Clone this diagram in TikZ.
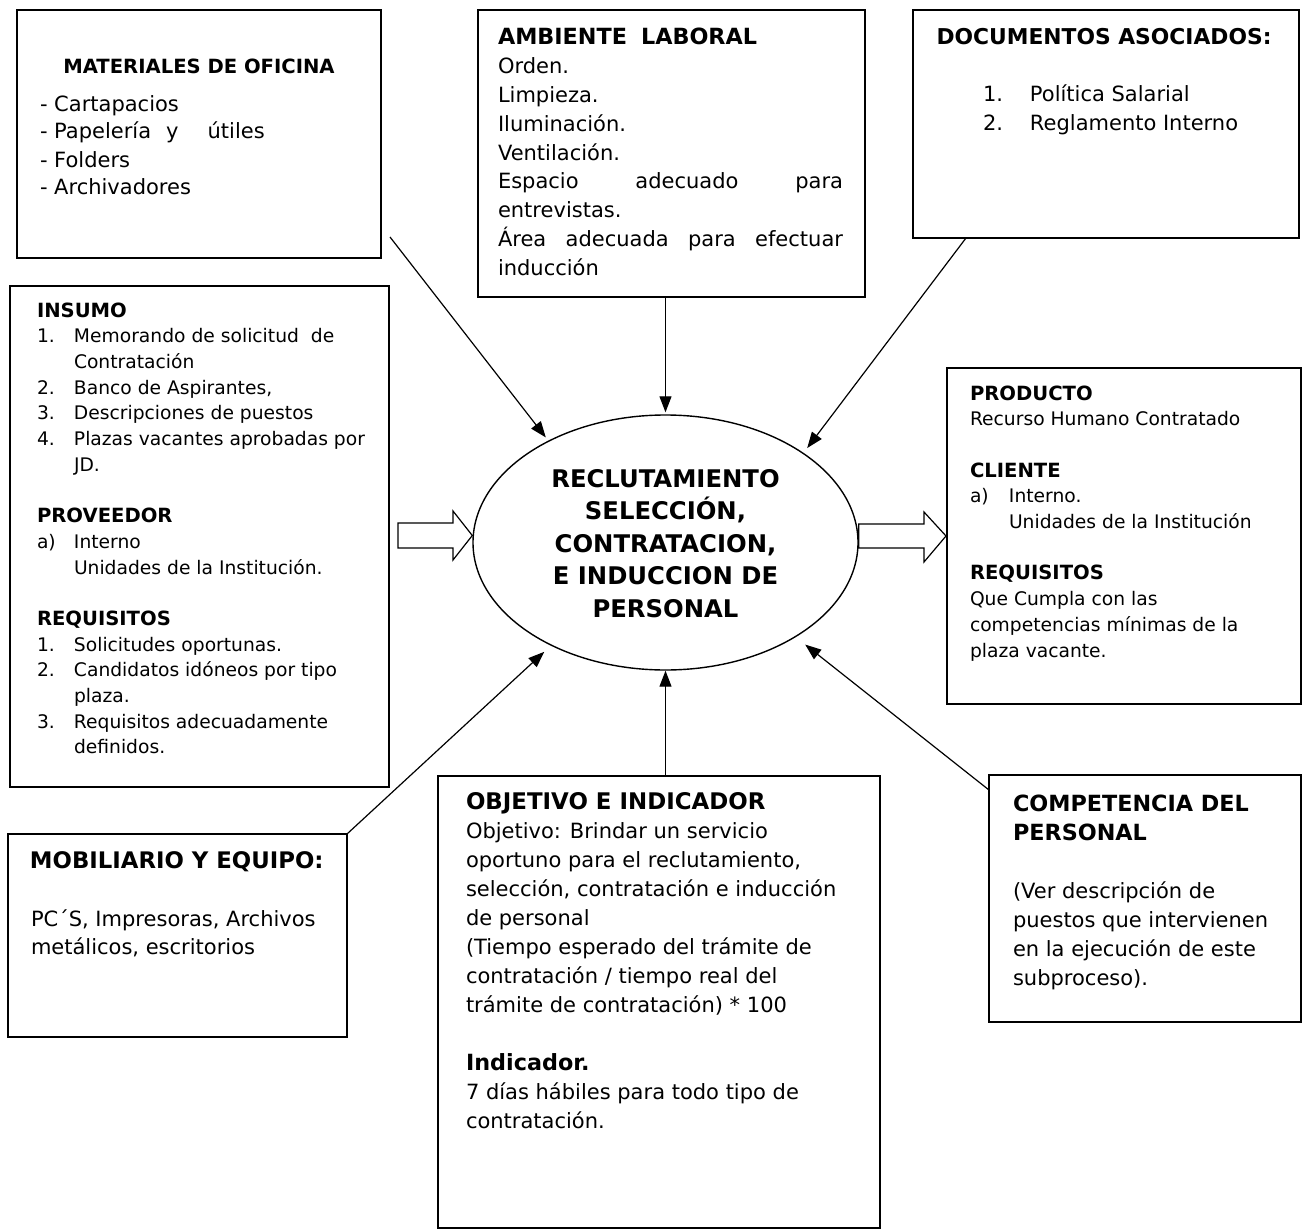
\documentclass[tikz,border=0pt]{standalone}
\usepackage{fontspec}
\setmainfont{DejaVu Sans}
\usetikzlibrary{arrows.meta,calc,shapes.geometric}
\newcommand\fR{\fontsize{21}{28.8}\selectfont}
\newcommand\fS{\fontsize{18.7}{25.7}\selectfont}
\newcommand\bB{\fontsize{22.3}{28.8}\selectfont\bfseries}
\newcommand\bS{\fontsize{19.6}{25.7}\selectfont\bfseries}
\newcommand\nb[2]{\makebox[#1][l]{#2}}
\tikzset{
  box/.style={draw, line width=1.4pt, anchor=north west, inner sep=0pt, outer sep=0pt},
  txt/.style={anchor=base west, inner sep=0pt, outer sep=0pt},
  ctxt/.style={anchor=base, inner sep=0pt, outer sep=0pt},
  conn/.style={line width=1.2pt, -{Triangle[length=16pt,width=12pt]}},
  blockarrow/.style={draw, line width=1.2pt, fill=white, line join=miter}
}
\begin{document}
\begin{tikzpicture}[x=1pt,y=-1pt]
\useasboundingbox (0,0) rectangle (1302,1231);
\fill[white] (0,0) rectangle (1302,1231);

% boxes
\node[box, minimum width=364pt, minimum height=248pt] (mat) at (17,10) {};
\node[box, minimum width=387pt, minimum height=287pt] (amb) at (478,10) {};
\node[box, minimum width=386pt, minimum height=228pt] (doc) at (913,10) {};
\node[box, minimum width=379pt, minimum height=501pt] (ins) at (10,286) {};
\node[box, minimum width=354pt, minimum height=336pt] (prod) at (947,368) {};
\node[box, minimum width=339pt, minimum height=203pt] (mob) at (8,834) {};
\node[box, minimum width=442pt, minimum height=452pt] (obj) at (438,776) {};
\node[box, minimum width=312pt, minimum height=247pt] (comp) at (989,775) {};

% central ellipse
\node[draw, ellipse, line width=1.4pt, minimum width=385pt, minimum height=255pt, inner sep=0pt] (ell) at (665.5,542.5) {};
\node[ctxt] (ellT) at (665.5,487) {\parbox[t]{320pt}{\centering\fontsize{24.3}{32.5}\selectfont\bfseries
RECLUTAMIENTO\\ SELECCIÓN,\\ CONTRATACION,\\ E INDUCCION DE\\ PERSONAL}};

% texts
\node[ctxt] (matT) at (199,74) {\bS MATERIALES DE OFICINA};
\node[txt] (matL) at (40,111) {\parbox[t]{330pt}{\raggedright\fontsize{21}{28}\selectfont
- Cartapacios\\
- Papelería\hspace{15pt}y\hspace{29pt}útiles\\
- Folders\\
- Archivadores}};

\node[txt] (ambL) at (498,45) {\parbox[t]{360pt}{\raggedright\fR
{\bB AMBIENTE\hspace{14pt}LABORAL}\\
Orden.\\
Limpieza.\\
Iluminación.\\
Ventilación.\\
\makebox[345pt][s]{Espacio adecuado para}\\
entrevistas.\\
\makebox[345pt][s]{Área adecuada para efectuar}\\
inducción}};

\node[ctxt] (docT) at (1104,45) {\fontsize{21.8}{28}\selectfont\bfseries DOCUMENTOS ASOCIADOS:};
\node[txt] (docL) at (983,102) {\parbox[t]{300pt}{\raggedright\fontsize{21}{28.5}\selectfont
\nb{47pt}{1.}Política Salarial\\
\nb{47pt}{2.}Reglamento Interno}};

\node[txt] (insL) at (37,317) {\parbox[t]{345pt}{\raggedright\fS
{\bS INSUMO}\\
\nb{37pt}{1.}Memorando de solicitud\ \ de\\
\hspace*{37pt}Contratación\\
\nb{37pt}{2.}Banco de Aspirantes,\\
\nb{37pt}{3.}Descripciones de puestos\\
\nb{37pt}{4.}Plazas vacantes aprobadas por\\
\hspace*{37pt}JD.\\
\mbox{}\\
{\bS PROVEEDOR}\\
\nb{37pt}{a)}Interno\\
\hspace*{37pt}Unidades de la Institución.\\
\mbox{}\\
{\bS REQUISITOS}\\
\nb{37pt}{1.}Solicitudes oportunas.\\
\nb{37pt}{2.}Candidatos idóneos por tipo\\
\hspace*{37pt}plaza.\\
\nb{37pt}{3.}Requisitos adecuadamente\\
\hspace*{37pt}definidos.}};

\node[txt] (prodL) at (970,400) {\parbox[t]{320pt}{\raggedright\fS
{\bS PRODUCTO}\\
Recurso Humano Contratado\\
\mbox{}\\
{\bS CLIENTE}\\
\nb{39pt}{a)}Interno.\\
\hspace*{39pt}Unidades de la Institución\\
\mbox{}\\
{\bS REQUISITOS}\\
Que Cumpla con las\\
competencias mínimas de la\\
plaza vacante.}};

\node[txt] (mobT) at (30,868) {\fontsize{22.8}{28}\selectfont\bfseries MOBILIARIO Y EQUIPO:};
\node[txt] (mobL) at (31,926) {\parbox[t]{310pt}{\raggedright\fontsize{21}{28}\selectfont
PC´S, Impresoras, Archivos\\
metálicos, escritorios}};

\node[txt] (objL) at (466,809) {\parbox[t]{410pt}{\raggedright\fontsize{21}{29}\selectfont
{\fontsize{22.9}{29}\selectfont\bfseries OBJETIVO E INDICADOR}\\
Objetivo: Brindar un servicio\\
oportuno para el reclutamiento,\\
selección, contratación e inducción\\
de personal\\
(Tiempo esperado del trámite de\\
contratación / tiempo real del\\
trámite de contratación) * 100\\
\mbox{}\\
{\bB Indicador.}\\
7 días hábiles para todo tipo de\\
contratación.}};

\node[txt] (compL) at (1013,811) {\parbox[t]{285pt}{\raggedright\fontsize{21}{29}\selectfont
{\bB COMPETENCIA DEL}\\
{\bB PERSONAL}\\
\mbox{}\\
(Ver descripción de\\
puestos que intervienen\\
en la ejecución de este\\
subproceso).}};

% connector end points
\coordinate (matout) at ($(mat.south east)+(9,-21)$);
\coordinate (docout) at ($(doc.south west)+(53,0)$);
\coordinate (compin) at ($(comp.north west)+(0,15)$);

% connectors
\draw[conn, shorten >=4pt] (matout) -- (ell.139);
\draw[conn, shorten >=2pt] (amb.south -| ell.north) -- (ell.north);
\draw[conn, shorten >=6pt] (docout) -- (ell.33);
\draw[conn, shorten >=9pt] (mob.north east) -- (ell.222);
\draw[conn] (obj.north -| ell.south) -- (ell.south);
\draw[conn, shorten >=12pt] (compin) -- (ell.-36);

% block arrows
\draw[blockarrow] ($(ins.east |- ell.west)+(9,-19.5)$) -- (453,523) -- (453,511) -- ($(ell.west)+(0,-7)$) -- (453,560) -- (453,548) -- ($(ins.east |- ell.west)+(9,5.5)$) -- cycle;
\draw[blockarrow] ($(ell.east)+(0,-18.5)$) -- (924,524) -- (924,512) -- ($(prod.west |- ell.east)+(-1,-6.5)$) -- (924,562) -- (924,548) -- ($(ell.east)+(0,5.5)$) -- cycle;
\end{tikzpicture}
\end{document}
